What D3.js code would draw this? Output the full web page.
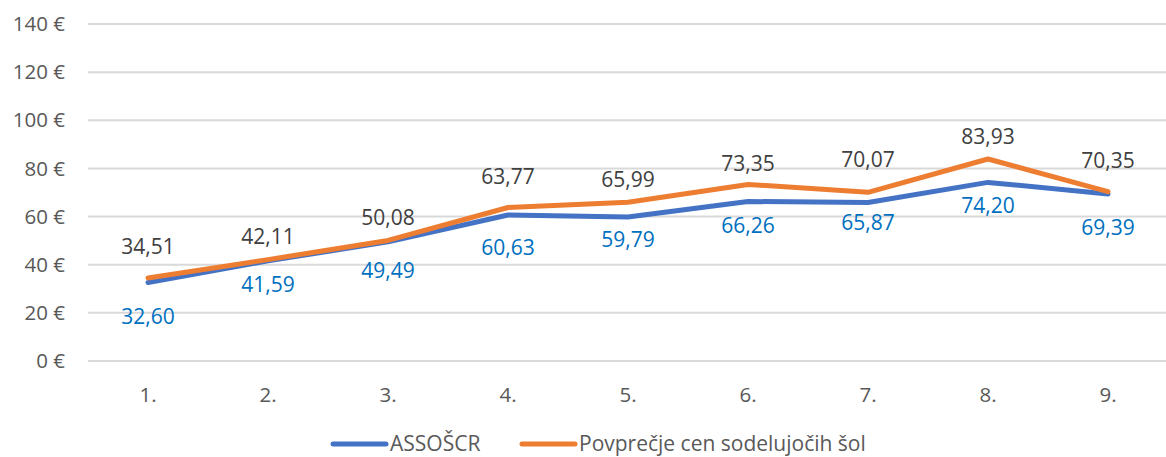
<!DOCTYPE html>
<html>
<head>
<meta charset="utf-8">
<script src="https://cdn.jsdelivr.net/npm/d3@7"></script>
<style>
  body { margin: 0; background: #fff; }
  svg text { font-family: "Open Sans", "Noto Sans", sans-serif; }
</style>
</head>
<body>
<div class="chart"></div>
<script>
// data
const categories = ['1.', '2.', '3.', '4.', '5.', '6.', '7.', '8.', '9.']
const assoscr = [32.60, 41.59, 49.49, 60.63, 59.79, 66.26, 65.87, 74.20, 69.39]
const povprecje = [34.51, 42.11, 50.08, 63.77, 65.99, 73.35, 70.07, 83.93, 70.35]
const yTicks = [0, 20, 40, 60, 80, 100, 120, 140]
const seriesNames = ['ASSOŠCR', 'Povprečje cen sodelujočih šol']

// label nudges (px), like Excel's placement
const blueLabelDy = [34, 24, 29, 33, 23, 24, 20, 23, 34]
const orangeLabelDy = [-31, -23, -23, -31, -23, -21, -33, -22, -31]

const width = 1166, height = 457
const margin = ({top: 24, right: -2, bottom: 96, left: 88})

const svg = d3.select('.chart').append('svg')
	.attr('width', width)
	.attr('height', height)

const x = d3.scaleBand()
	.domain(categories)
	.range([margin.left, width - margin.right])

const y = d3.scaleLinear()
	.domain([0, 140])
	.range([height - margin.bottom, margin.top])

const fmt = v => d3.format('.2f')(v).replace('.', ',')

// gridlines
svg.append('g')
	.selectAll('line')
	.data(yTicks)
	.enter()
	.append('line')
	.attr('x1', margin.left)
	.attr('x2', width - margin.right)
	.attr('y1', d => y(d))
	.attr('y2', d => y(d))
	.attr('stroke', '#d9d9d9')
	.attr('stroke-width', 2)

// y axis labels
svg.append('g')
	.selectAll('text')
	.data(yTicks)
	.enter()
	.append('text')
	.attr('x', 65)
	.attr('y', d => y(d))
	.attr('dy', '0.35em')
	.attr('text-anchor', 'end')
	.attr('font-size', 20.5)
	.attr('fill', '#595959')
	.text(d => d + ' €')

// x axis labels
svg.append('g')
	.selectAll('text')
	.data(categories)
	.enter()
	.append('text')
	.attr('x', d => x(d) + x.bandwidth() / 2)
	.attr('y', y(0) + 34)
	.attr('dy', '0.35em')
	.attr('text-anchor', 'middle')
	.attr('font-size', 20.5)
	.attr('fill', '#595959')
	.text(d => d)

const line = d3.line()
	.x((d, i) => x(categories[i]) + x.bandwidth() / 2)
	.y(d => y(d))

const series = [
	{name: seriesNames[0], values: assoscr, color: '#4472c4', labelColor: '#0070c0', dy: blueLabelDy},
	{name: seriesNames[1], values: povprecje, color: '#ed7d31', labelColor: '#404040', dy: orangeLabelDy}
]

series.forEach(s => {
	svg.append('path')
		.datum(s.values)
		.attr('d', line)
		.attr('fill', 'none')
		.attr('stroke', s.color)
		.attr('stroke-width', 5)
		.attr('stroke-linejoin', 'round')
		.attr('stroke-linecap', 'round')
})

series.forEach(s => {
	svg.append('g')
		.selectAll('text')
		.data(s.values)
		.enter()
		.append('text')
		.attr('x', (d, i) => x(categories[i]) + x.bandwidth() / 2)
		.attr('y', (d, i) => y(d) + s.dy[i])
		.attr('dy', '0.35em')
		.attr('text-anchor', 'middle')
		.attr('font-size', 21)
		.attr('fill', s.labelColor)
		.text(d => fmt(d))
})

// legend
const legendX = [333, 522]
const legend = svg.append('g')
	.selectAll('g')
	.data(series)
	.enter()
	.append('g')
	.attr('transform', (d, i) => `translate(${legendX[i]}, 444)`)

legend.append('line')
	.attr('x1', 0)
	.attr('x2', 53)
	.attr('stroke', d => d.color)
	.attr('stroke-width', 5)
	.attr('stroke-linecap', 'round')

legend.append('text')
	.attr('x', 57)
	.attr('dy', '0.35em')
	.attr('font-size', 21)
	.attr('fill', '#595959')
	.text(d => d.name)
</script>
</body>
</html>
